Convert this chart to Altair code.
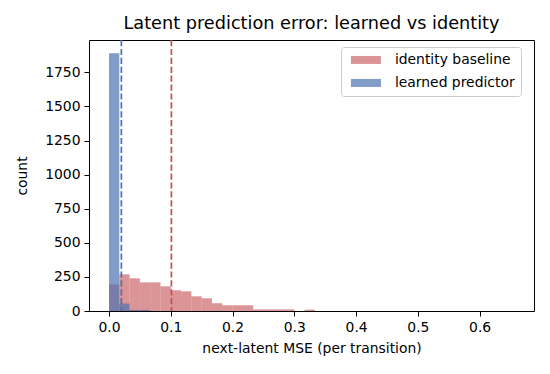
import altair as alt
import pandas as pd

# ---- data ----
bin_width = 1 / 60
identity_counts = [195, 269, 240, 210, 210, 181, 152, 144, 108, 93, 57, 42, 42, 42, 12, 12, 12, 12, 0, 10]
learned_counts = [1890, 55, 8, 8]
series_names = ["identity baseline", "learned predictor"]
series_fill = ["rgba(196,78,82,0.6)", "rgba(76,114,176,0.7)"]
line_colors = ["#C44E52", "#4C72B0"]
mean_values = [0.101, 0.020]
x_ticks = [0.0, 0.1, 0.2, 0.3, 0.4, 0.5, 0.6]
y_ticks = [0, 250, 500, 750, 1000, 1250, 1500, 1750]

rows = []
for name, counts in zip(series_names, [identity_counts, learned_counts]):
    for k, c in enumerate(counts):
        if c > 0:
            rows.append({"series": name, "start": k * bin_width,
                         "end": (k + 1) * bin_width, "count": c, "base": 0})
df = pd.DataFrame(rows)
rule_df = pd.DataFrame({"x": mean_values, "c": line_colors})

FONT = "DejaVu Sans"
FS = 13.9
xs = alt.Scale(domain=[-0.0324, 0.688], nice=False, zero=False)
ys = alt.Scale(domain=[0, 1987], nice=False, zero=False)

bars = alt.Chart(df).mark_rect(opacity=1).encode(
    x=alt.X("start:Q", scale=xs,
            axis=alt.Axis(values=x_ticks, format=".1f",
                          title="next-latent MSE (per transition)")),
    x2="end:Q",
    y=alt.Y("count:Q", scale=ys,
            axis=alt.Axis(values=y_ticks, format="d", title="count")),
    y2="base:Q",
    color=alt.Color("series:N",
                    scale=alt.Scale(domain=series_names, range=series_fill),
                    legend=alt.Legend(title=None, orient="none",
                                      legendX=252, legendY=7)),
)

rules = alt.Chart(rule_df).mark_rule(strokeDash=[6.2, 2.7], strokeWidth=1.7).encode(
    x=alt.X("x:Q", scale=xs),
    color=alt.Color("c:N", scale=None),
)

chart = alt.layer(bars, rules).properties(
    width=445,
    height=271,
    autosize=alt.AutoSizeParams(type="none"),
    padding={"left": 89, "top": 40, "right": 16, "bottom": 63},
    title=alt.TitleParams("Latent prediction error: learned vs identity",
                          fontSize=17.7, font=FONT, fontWeight="normal",
                          offset=6, anchor="middle", color="black"),
).configure_view(
    stroke="black", strokeWidth=1
).configure_axis(
    domain=False, grid=False, ticks=True, tickColor="black", tickWidth=1,
    tickSize=5, labelFont=FONT, labelFontSize=FS, labelColor="black",
    labelPadding=4, titleFont=FONT, titleFontSize=FS, titleColor="black",
    titleFontWeight="normal",
).configure_axisX(
    titlePadding=8, labelFlush=False
).configure_axisY(
    titlePadding=15, labelFlush=False
).configure_legend(
    symbolType="M-0.75,-1H6.75V1H-0.75Z", symbolSize=64, symbolStrokeWidth=0,
    labelFont=FONT, labelFontSize=FS, labelColor="black", labelOffset=34,
    padding=6, strokeColor="#cccccc", fillColor="white", cornerRadius=3,
    rowPadding=8,
)

chart.save("out.html", embed_options={"renderer": "svg", "actions": False})
